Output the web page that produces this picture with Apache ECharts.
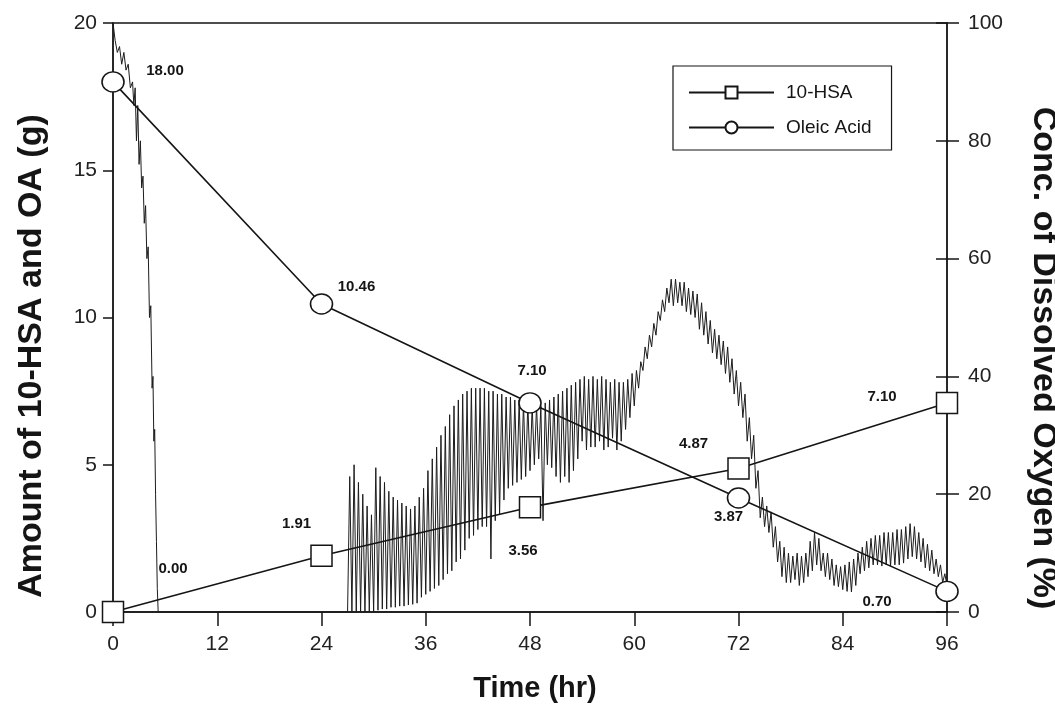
<!DOCTYPE html>
<html><head><meta charset="utf-8">
<script src="https://cdn.jsdelivr.net/npm/echarts@6/dist/echarts.min.js"></script>
<style>html,body{margin:0;padding:0;background:#fff}#c{width:1055px;height:705px}</style>
</head><body><div id="c"></div>
<script>
// ---- data ----
const hsaTime = [0, 24, 48, 72, 96];
const hsaValue = [0.00, 1.91, 3.56, 4.87, 7.10];
const oaTime = [0, 24, 48, 72, 96];
const oaValue = [18.00, 10.46, 7.10, 3.87, 0.70];
const seriesNames = ['10-HSA', 'Oleic Acid', 'Dissolved Oxygen'];
const xTickValues = [0, 12, 24, 36, 48, 60, 72, 84, 96];

// dissolved oxygen (%), early phase read point by point
const doEarlyTime = [0, 0.25, 0.5, 0.75, 1.0, 1.25, 1.5, 1.75, 2.0, 2.25, 2.4, 2.55, 2.7, 2.85, 3.0, 3.15, 3.3, 3.45, 3.6, 3.75, 3.9, 4.05, 4.2, 4.35, 4.5, 4.6, 4.7, 4.8, 4.9, 5.0, 5.1, 5.2];
const doEarlyValue = [100, 97, 95, 96, 93, 95, 92, 93, 89, 90, 86, 89, 80, 86, 76, 80, 72, 74, 66, 69, 60, 62, 50, 52, 38, 40, 29, 31, 20, 12, 4, 0];
// dissolved oxygen (%), logged every 0.25 h from 27 h to 96 h
const doLateStart = 27;
const doLateStep = 0.25;
const doLateValue = [
  0, 23, 0, 25,     0, 22, 0, 20,     0, 18, 0, 16.5,   0, 24.5, 0.3, 23,
  0.5, 22, 0.5, 20.5, 0.8, 19.5, 0.8, 19, 1, 18.5, 1, 18, 1.2, 17.5, 1.3, 18,
  1.5, 19.5, 2.5, 21, 3, 24, 3.5, 26, 4, 28, 4.5, 30, 5.5, 31.5, 6.5, 33.5,
  7, 35, 8.5, 36, 9, 37, 10.5, 37.5, 12.5, 38, 13, 38, 14, 38, 14.5, 38,
  14.5, 37.5, 9, 37.5, 15.5, 37, 16.5, 37, 19, 36.5, 21, 36.5, 21.5, 36, 22, 36,
  22.5, 35.5, 23, 35.5, 24, 35, 25, 35, 26, 35, 15.5, 35.5, 25, 36, 24.5, 36.5,
  23, 37, 22, 37.5, 23, 38, 22, 38.5, 24, 39, 26, 39.5, 29, 40, 27.5, 39.5,
  28, 40, 28, 39.5, 29, 40, 27.5, 39.5, 28, 39, 29.5, 39.5, 27.5, 39, 29, 39,
  31, 39.5, 33, 40.5, 35, 41, 38, 42.5, 41, 45, 43, 47, 45, 49, 47, 51,
  49.5, 53, 51, 55, 52.5, 56.5, 52, 56.5, 52.5, 56, 52, 56, 51, 55, 50.5, 54.5,
  50, 54, 48, 52.5, 47, 51, 45.5, 49.5, 44, 48, 43, 47, 42, 46, 40.5, 45,
  39, 43, 37, 41, 35, 39, 33, 37, 29, 33, 26, 30, 21, 24, 16, 19.5,
  14.5, 18, 13.5, 17, 11, 14.5, 8.5, 12, 6, 11, 5, 10, 5, 9.5, 5.5, 10,
  4.5, 9.5, 5, 10, 6, 12, 7, 13.5, 8, 12.5, 7, 10, 6, 10, 5.5, 9,
  4.5, 8, 4.3, 7.7, 3.8, 8, 3.5, 8.5, 3.4, 9, 4.5, 10, 6.5, 11, 7, 12,
  7.5, 12.5, 8, 13, 8, 13, 7.8, 13.5, 8, 13.5, 7.8, 13.5, 8, 14, 8, 14,
  8.3, 14.5, 9, 15, 9.4, 14.5, 9, 13.5, 8.5, 12.5, 7.5, 11.5, 7, 10.5, 6.5, 9,
  6, 8, 5, 6.5, 4.5
];

// ---- layout (label placement relative to each marker, px) ----
const hsaLabelShift = [[60, -43], [-25, -32], [-7, 44], [-45, -25], [-65, -6]];
const oaLabelShift = [[52, -11], [35, -17], [2, -32], [-10, 19], [-70, 10]];

const FONT = "'Liberation Sans', Arial, Helvetica, sans-serif";
const INK = '#151515';

const doData = [];
doEarlyTime.forEach((t, i) => doData.push([t, doEarlyValue[i]]));
doLateValue.forEach((v, i) => doData.push([doLateStart + i * doLateStep, v]));

const pointLabel = { show: true, position: 'inside', fontFamily: FONT, fontWeight: 'bold', fontSize: 15, color: INK,
  formatter: p => p.value[1].toFixed(2) };
const hsaData = hsaTime.map((t, i) => ({ value: [t, hsaValue[i]], label: { offset: hsaLabelShift[i] } }));
const oaData = oaTime.map((t, i) => ({ value: [t, oaValue[i]], label: { offset: oaLabelShift[i] } }));

const tickFont = { fontFamily: FONT, fontSize: 21, color: '#222' };
const axisLine = { show: true, onZero: false, lineStyle: { color: INK, width: 1.5 } };
const tickStyle = { color: INK, width: 1.5 };
const xMin = xTickValues[0], xMax = xTickValues[xTickValues.length - 1];

const chart = echarts.init(document.getElementById('c'), null, { renderer: 'canvas' });
chart.setOption({
  animation: false,
  backgroundColor: '#fff',
  grid: [
    { left: 113, right: 108, top: 23, bottom: 93, show: true, borderColor: INK, borderWidth: 1.3, backgroundColor: 'transparent' },
    // thin strip just inside the right axis: its split lines give the inward half of the right-axis ticks
    { left: 936, right: 108, top: 23, bottom: 93, show: false }
  ],
  xAxis: [
    { type: 'value', min: xMin, max: xMax, interval: 12,
      axisLine: axisLine, axisTick: { length: 14, lineStyle: tickStyle },
      axisLabel: Object.assign({ margin: 22 }, tickFont), splitLine: { show: false } },
    { type: 'value', gridIndex: 1, min: 0, max: 1, show: false }
  ],
  yAxis: [
    { type: 'value', min: 0, max: 20, interval: 5, position: 'left',
      axisLine: axisLine, axisTick: { show: true, length: 10, lineStyle: tickStyle },
      axisLabel: Object.assign({ margin: 16 }, tickFont), splitLine: { show: false } },
    { type: 'value', min: 0, max: 100, interval: 20, position: 'right',
      axisLine: axisLine, axisTick: { show: true, length: 12, lineStyle: tickStyle },
      axisLabel: Object.assign({ margin: 21 }, tickFont), splitLine: { show: false } },
    { type: 'value', gridIndex: 1, min: 0, max: 100, interval: 20,
      axisLine: { show: false }, axisTick: { show: false }, axisLabel: { show: false },
      splitLine: { show: true, lineStyle: { color: INK, width: 1.5 } } }
  ],
  legend: {
    data: [seriesNames[0], seriesNames[1]], orient: 'vertical', left: 673, top: 66,
    padding: [17, 20, 13, 15], itemGap: 16, itemWidth: 85, itemHeight: 15,
    borderColor: INK, borderWidth: 1.2, backgroundColor: '#fff',
    textStyle: { fontFamily: FONT, fontSize: 19, color: INK, padding: [0, 0, 0, 7] }
  },
  graphic: [
    { type: 'text', x: 535, y: 689, style: { text: 'Time (hr)', fontFamily: FONT, fontWeight: 'bold', fontSize: 29, fill: INK, align: 'center', verticalAlign: 'middle' } },
    { type: 'text', x: 32, y: 356, rotation: Math.PI / 2, style: { text: 'Amount of 10-HSA and OA (g)', fontFamily: FONT, fontWeight: 'bold', fontSize: 34, fill: INK, align: 'center', verticalAlign: 'middle' } },
    { type: 'text', x: 1043, y: 358, rotation: -Math.PI / 2, style: { text: 'Conc. of Dissolved Oxygen (%)', fontFamily: FONT, fontWeight: 'bold', fontSize: 34, fill: INK, align: 'center', verticalAlign: 'middle' } }
  ],
  series: [
    { name: seriesNames[2], type: 'line', yAxisIndex: 1, data: doData, showSymbol: false, symbol: 'none',
      lineStyle: { color: '#1c1c1c', width: 1 }, z: 1, silent: true },
    { name: seriesNames[0], type: 'line', yAxisIndex: 0, data: hsaData, symbol: 'rect', symbolSize: 21,
      itemStyle: { color: '#fff', borderColor: INK, borderWidth: 1.5 }, lineStyle: { color: INK, width: 1.6 },
      label: pointLabel, z: 4 },
    { name: seriesNames[1], type: 'line', yAxisIndex: 0, data: oaData, symbol: 'circle', symbolSize: [22, 20],
      itemStyle: { color: '#fff', borderColor: INK, borderWidth: 1.5 }, lineStyle: { color: INK, width: 1.6 },
      label: pointLabel, z: 4 }
  ]
});
</script></body></html>
